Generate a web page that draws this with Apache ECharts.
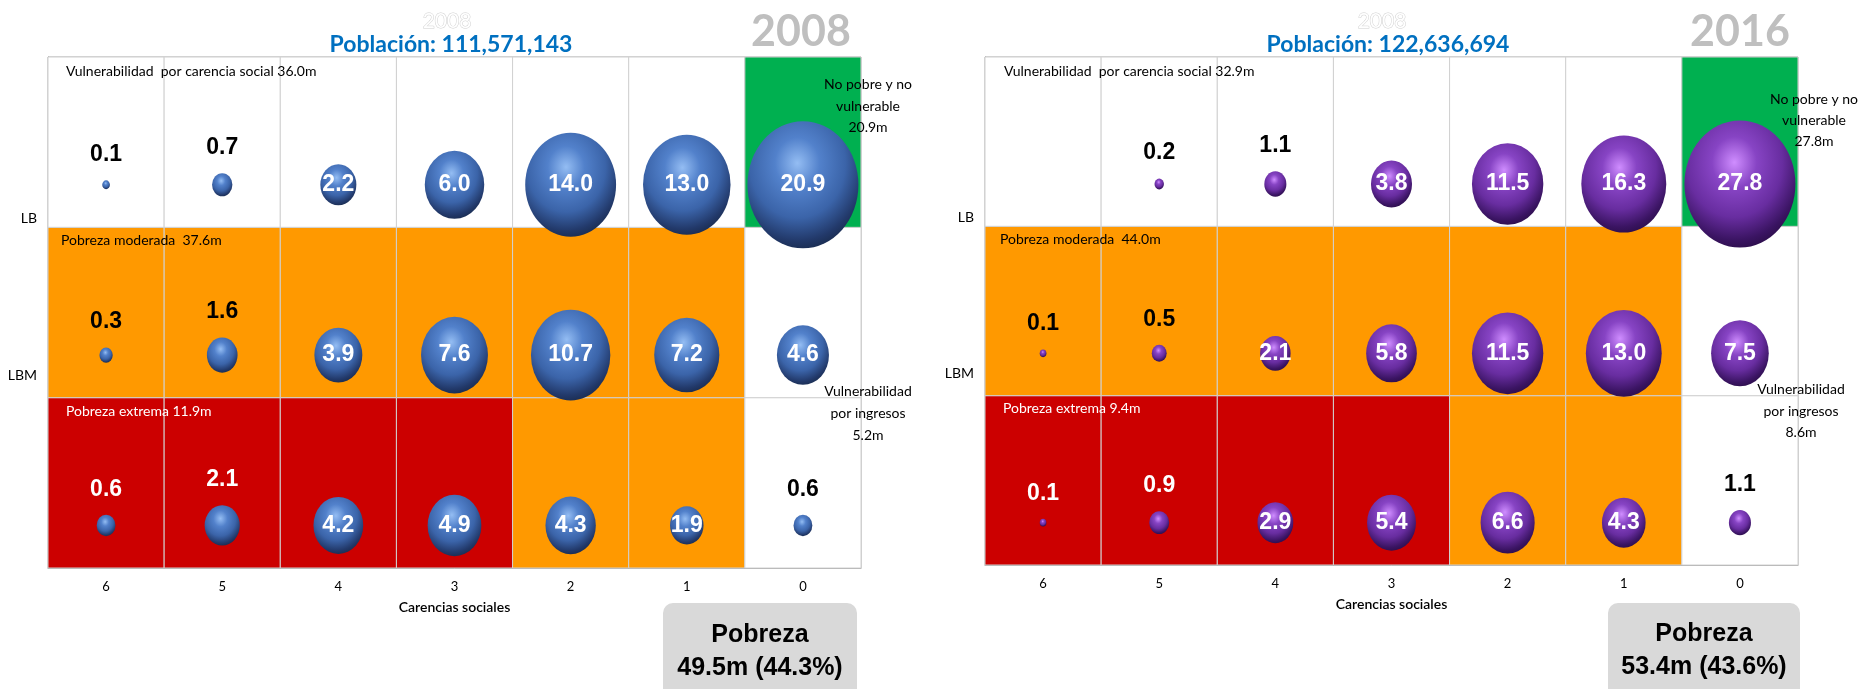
<!DOCTYPE html>
<html>
<head>
<meta charset="utf-8">
<title>Pobreza 2008 - 2016</title>
<script src="https://cdn.jsdelivr.net/npm/echarts@6/dist/echarts.min.js"></script>
<style>
  html, body { margin: 0; padding: 0; background: #fff; }
  #chart { width: 1862px; height: 689px; }
</style>
</head>
<body>
<div id="chart"></div>
<script>
// categorias del eje x (carencias sociales, de 6 a 0)
var carencias = ["6", "5", "4", "3", "2", "1", "0"];
// etiquetas del eje y
var yTickValues = [1.13, 2.05];
var yTickLabels = ["LBM", "LB"];

// millones de personas, 2008
var lb2008 = [0.1, 0.7, 2.2, 6.0, 14.0, 13.0, 20.9];
var lbm2008 = [0.3, 1.6, 3.9, 7.6, 10.7, 7.2, 4.6];
var ext2008 = [0.6, 2.1, 4.2, 4.9, 4.3, 1.9, 0.6];

// millones de personas, 2016
var lb2016 = [null, 0.2, 1.1, 3.8, 11.5, 16.3, 27.8];
var lbm2016 = [0.1, 0.5, 2.1, 5.8, 11.5, 13.0, 7.5];
var ext2016 = [0.1, 0.9, 2.9, 5.4, 6.6, 4.3, 1.1];

// zona de cada celda
// 0 vulnerable por carencia, 1 no pobre, 2 pobreza moderada, 3 pobreza extrema, 4 vulnerable por ingresos
var zonaLB = [0, 0, 0, 0, 0, 0, 1];
var zonaLBM = [2, 2, 2, 2, 2, 2, 4];
var zonaExt = [3, 3, 3, 3, 2, 2, 4];

var zoneColors = ["#FFFFFF", "#00B050", "#FF9900", "#CC0000", "#FFFFFF"];

var blueSphere = {
  type: "radial", x: 0.45, y: 0.33, r: 0.72,
  colorStops: [
    { offset: 0, color: "#94BDF3" },
    { offset: 0.28, color: "#5281CB" },
    { offset: 0.6, color: "#3B64A9" },
    { offset: 0.85, color: "#22396A" },
    { offset: 1, color: "#172847" },
  ],
};
var purpleSphere = {
  type: "radial", x: 0.45, y: 0.33, r: 0.72,
  colorStops: [
    { offset: 0, color: "#CF8DFF" },
    { offset: 0.28, color: "#8744C4" },
    { offset: 0.6, color: "#682DA0" },
    { offset: 0.85, color: "#3A1462" },
    { offset: 1, color: "#280C44" },
  ],
};

// filas de abajo hacia arriba: extrema, LBM, LB
var rows2008 = [ext2008, lbm2008, lb2008];
var rows2016 = [ext2016, lbm2016, lb2016];
var zoneRows = [zonaExt, zonaLBM, zonaLB];

function buildCells() {
  var out = [];
  for (var r = 0; r < zoneRows.length; r++) {
    for (var c = 0; c < carencias.length; c++) {
      out.push([c, r, zoneRows[r][c]]);
    }
  }
  return out;
}

function buildBubbles(rows) {
  var out = [];
  for (var r = 0; r < rows.length; r++) {
    for (var c = 0; c < carencias.length; c++) {
      var v = rows[r][c];
      if (v == null) continue;
      // etiqueta arriba en las burbujas pequenas y en 6 y 5 carencias
      var above = v < 1.5 || c <= 1;
      out.push({
        value: [c, r + 0.25, v],
        label: above
          ? { position: "top", distance: 14, color: zoneRows[r][c] === 3 ? "#FFFFFF" : "#000000" }
          : { position: "inside", color: "#FFFFFF" },
      });
    }
  }
  return out;
}

function maxOf(rows) {
  var m = 0;
  rows.forEach(function (row) {
    row.forEach(function (v) { if (v != null && v > m) m = v; });
  });
  return m;
}

function renderCell(params, api) {
  var top = api.coord([api.value(0), api.value(1) + 1]);
  var size = api.size([1, 1]);
  return {
    type: "rect",
    shape: { x: top[0] - size[0] / 2, y: top[1], width: size[0], height: size[1] },
    style: { fill: zoneColors[api.value(2)], stroke: "#D0D0D0", lineWidth: 1 },
  };
}

function bubbleSeries(idx, rows, sphere) {
  var kw = 111 / Math.sqrt(maxOf(rows));
  var kh = 127 / Math.sqrt(maxOf(rows));
  return {
    type: "scatter",
    xAxisIndex: idx,
    yAxisIndex: idx,
    z: 3,
    data: buildBubbles(rows),
    symbol: "circle",
    symbolSize: function (val) {
      var s = Math.sqrt(val[2]);
      return [kw * s, kh * s];
    },
    itemStyle: { color: sphere, opacity: 1 },
    label: {
      show: true,
      fontFamily: "Liberation Sans",
      fontWeight: "bold",
      fontSize: 23,
      formatter: function (p) { return p.value[2].toFixed(1); },
    },
  };
}

function xAxisCfg(idx) {
  return {
    type: "category",
    gridIndex: idx,
    data: carencias,
    axisLine: { show: true, lineStyle: { color: "#A6A6A6" } },
    axisTick: { show: false },
    splitLine: { show: false },
    axisLabel: { fontFamily: "Lato", fontSize: 13, color: "#000", margin: 12 },
    name: "Carencias sociales",
    nameLocation: "middle",
    nameGap: 32,
    nameTextStyle: { fontFamily: "Lato", fontSize: 14, fontWeight: 600, color: "#000" },
  };
}

function yAxisCfg(idx) {
  return {
    type: "value",
    gridIndex: idx,
    min: 0,
    max: 3,
    axisLine: { show: true, lineStyle: { color: "#868686" } },
    axisTick: { show: false },
    splitLine: { show: false },
    axisLabel: {
      customValues: yTickValues,
      formatter: function (v) {
        var i = yTickValues.indexOf(v);
        return i >= 0 ? yTickLabels[i] : "";
      },
      fontFamily: "Lato",
      fontSize: 14,
      color: "#000",
      margin: 11,
    },
  };
}

function note(text, x, y, opts) {
  opts = opts || {};
  return {
    type: "text",
    z: 100,
    style: {
      text: text,
      x: x,
      y: y,
      align: opts.align || "left",
      verticalAlign: "middle",
      fontFamily: opts.family || "Lato",
      fontSize: opts.size || 14,
      fontWeight: opts.weight || "normal",
      lineHeight: opts.lineHeight || 21,
      fill: opts.fill || "#000",
      stroke: opts.stroke,
      lineWidth: opts.stroke ? 1 : 0,
    },
  };
}

function pobrezaBox(x, width, text, cx, cy) {
  return [
    {
      type: "rect",
      z: 90,
      shape: { x: x, y: 603, width: width, height: 100, r: 10 },
      style: { fill: "#D9D9D9" },
    },
    note(text, cx, cy, { align: "center", family: "Liberation Sans", size: 25, weight: "bold", lineHeight: 33 }),
  ];
}

var myChart = echarts.init(document.getElementById("chart"));

var option = {
  animation: false,
  grid: [
    { left: 48, top: 57, width: 813, height: 511, show: true, borderColor: "#A6A6A6", backgroundColor: "#fff" },
    { left: 985, top: 57, width: 813, height: 508, show: true, borderColor: "#A6A6A6", backgroundColor: "#fff" },
  ],
  xAxis: [xAxisCfg(0), xAxisCfg(1)],
  yAxis: [yAxisCfg(0), yAxisCfg(1)],
  series: [
    { type: "custom", xAxisIndex: 0, yAxisIndex: 0, z: 1, silent: true, renderItem: renderCell, data: buildCells() },
    { type: "custom", xAxisIndex: 1, yAxisIndex: 1, z: 1, silent: true, renderItem: renderCell, data: buildCells() },
    bubbleSeries(0, rows2008, blueSphere),
    bubbleSeries(1, rows2016, purpleSphere),
  ],
  graphic: [
    // 2008
    note("2008", 447, 21, { align: "center", size: 21, fill: "#FFFFFF", stroke: "#CFCFCF" }),
    note("Población: 111,571,143", 451, 45, { align: "center", size: 23, weight: "bold", fill: "#0070C0" }),
    note("2008", 801, 32, { align: "center", size: 43, weight: "bold", fill: "#BFBFBF" }),
    note("Vulnerabilidad  por carencia social 36.0m", 66, 71),
    note("Pobreza moderada  37.6m", 61, 240),
    note("Pobreza extrema 11.9m", 66, 411, { fill: "#FFFFFF" }),
    note("No pobre y no\nvulnerable\n20.9m", 868, 106, { align: "center", lineHeight: 21.5 }),
    note("Vulnerabilidad\npor ingresos\n5.2m", 868, 413, { align: "center", lineHeight: 22 }),
    // 2016
    note("2008", 1382, 21, { align: "center", size: 21, fill: "#FFFFFF", stroke: "#CFCFCF" }),
    note("Población: 122,636,694", 1388, 45, { align: "center", size: 23, weight: "bold", fill: "#0070C0" }),
    note("2016", 1740, 32, { align: "center", size: 43, weight: "bold", fill: "#BFBFBF" }),
    note("Vulnerabilidad  por carencia social 32.9m", 1004, 71),
    note("Pobreza moderada  44.0m", 1000, 239),
    note("Pobreza extrema 9.4m", 1003, 408, { fill: "#FFFFFF" }),
    note("No pobre y no\nvulnerable\n27.8m", 1814, 120, { align: "center", lineHeight: 21 }),
    note("Vulnerabilidad\npor ingresos\n8.6m", 1801, 411, { align: "center", lineHeight: 21.5 }),
  ]
    .concat(pobrezaBox(663, 194, "Pobreza\n49.5m (44.3%)", 760, 652))
    .concat(pobrezaBox(1608, 192, "Pobreza\n53.4m (43.6%)", 1704, 651)),
};

myChart.setOption(option);
</script>
</body>
</html>
